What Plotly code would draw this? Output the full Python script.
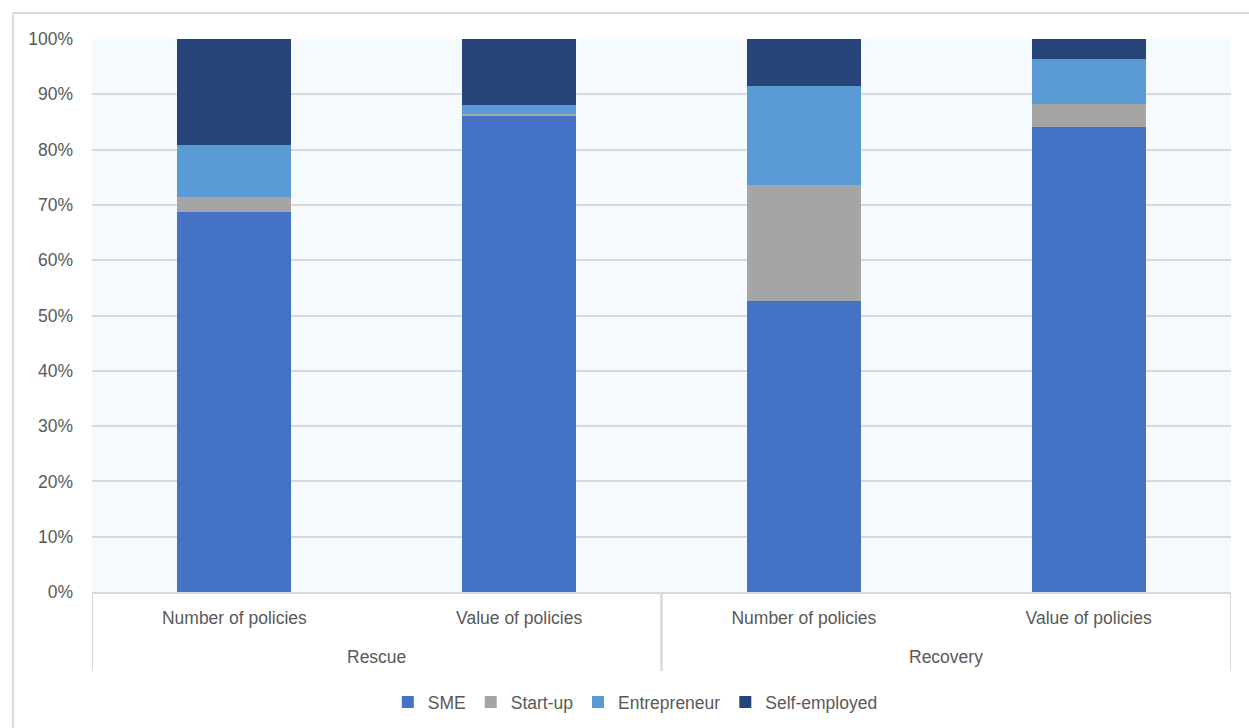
import plotly.graph_objects as go

phases = ["Rescue", "Rescue", "Recovery", "Recovery"]
measures = ["Number of policies", "Value of policies", "Number of policies", "Value of policies"]

sme = [68.7, 86.0, 52.6, 84.1]
start_up = [2.7, 0.4, 21.0, 4.2]
entrepreneur = [9.4, 1.7, 17.9, 8.1]
self_employed = [19.2, 11.9, 8.5, 3.6]

series = [
    ("SME", sme, "#4472C4"),
    ("Start-up", start_up, "#A5A5A5"),
    ("Entrepreneur", entrepreneur, "#5B9BD5"),
    ("Self-employed", self_employed, "#264478"),
]

FONT = "Liberation Sans, Arial, sans-serif"
TEXT = "#595959"
GRID = "#D9D9D9"
SIZE = 17.5

pos = list(range(len(measures)))

fig = go.Figure()
for name, vals, color in series:
    fig.add_trace(go.Bar(
        x=pos,
        y=vals,
        name=name,
        width=0.4,
        marker=dict(color=color, line=dict(width=0)),
    ))

fig.update_layout(
    barmode="stack",
    width=1249,
    height=728,
    margin=dict(l=92, r=18, t=39, b=136, autoexpand=False),
    paper_bgcolor="white",
    plot_bgcolor="#F5FAFE",
    font=dict(family=FONT, size=SIZE, color=TEXT),
    legend=dict(
        orientation="h",
        x=0.477, xanchor="center",
        y=-0.199, yanchor="middle",
        font=dict(family=FONT, size=SIZE, color=TEXT),
        itemwidth=30,
        traceorder="normal",
    ),
    showlegend=True,
)

fig.update_yaxes(
    range=[0, 100],
    dtick=10,
    ticksuffix="%",
    showgrid=True,
    gridcolor=GRID,
    gridwidth=2,
    zeroline=False,
    showline=False,
    ticklabelstandoff=18,
    tickfont=dict(family=FONT, size=SIZE, color=TEXT),
)

fig.update_xaxes(
    range=[-0.5, len(measures) - 0.5],
    tickvals=pos,
    ticktext=measures,
    ticks="outside",
    ticklen=0,
    ticklabelstandoff=9,
    showline=True,
    linecolor=GRID,
    linewidth=2,
    showgrid=False,
    zeroline=False,
    tickfont=dict(family=FONT, size=SIZE, color=TEXT),
)

# group labels and dividers under the category axis
groups = []
for i, p in enumerate(phases):
    if not groups or groups[-1][0] != p:
        groups.append([p, i, i])
    else:
        groups[-1][2] = i

for p, first, last in groups:
    fig.add_annotation(
        x=(first + last) / 2, xref="x",
        y=-0.117, yref="paper",
        text=p, showarrow=False,
        font=dict(family=FONT, size=SIZE, color=TEXT),
        yanchor="middle",
    )
    for edge in (first - 0.5, last + 0.5):
        fig.add_shape(type="line", xref="x", yref="paper",
                      x0=edge, x1=edge, y0=0, y1=-0.143,
                      line=dict(color=GRID, width=2))

# outer chart frame
fig.add_shape(type="line", xref="paper", yref="paper",
              x0=-0.0694, x1=1.1, y0=1.047, y1=1.047,
              line=dict(color=GRID, width=2))
fig.add_shape(type="line", xref="paper", yref="paper",
              x0=-0.0694, x1=-0.0694, y0=1.047, y1=-0.25,
              line=dict(color=GRID, width=2))

fig.write_html("out.html")
